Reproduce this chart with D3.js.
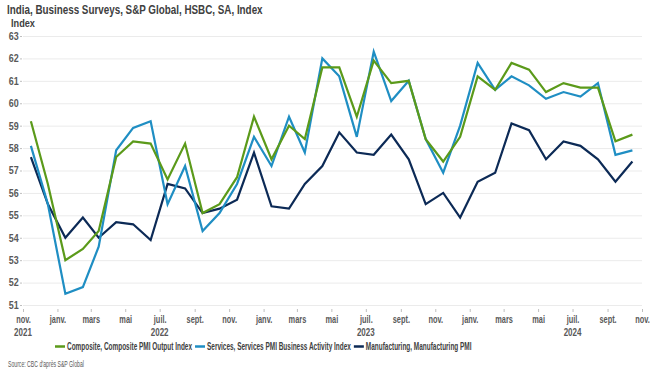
<!DOCTYPE html>
<html>
<head>
<meta charset="utf-8">
<script src="https://cdn.jsdelivr.net/npm/d3@7"></script>
<style>
  body { margin: 0; background: #fff; }
  svg text { font-family: "Liberation Sans", Arial, sans-serif; }
</style>
</head>
<body>
<div id="chart"></div>
<script>
// monthly readings, nov. 2021 -> oct. 2024
var startMonth = new Date(2021, 10, 1);

var composite = [59.2, 56.4, 53.0, 53.5, 54.3, 57.6, 58.3, 58.2, 56.6, 58.2, 55.1, 55.5,
    56.7, 59.4, 57.5, 59.0, 58.4, 61.6, 61.6, 59.4, 61.9, 60.9, 61.0, 58.4,
    57.4, 58.5, 61.2, 60.6, 61.8, 61.5, 60.5, 60.9, 60.7, 60.7, 58.3, 58.6];

var services = [58.1, 55.5, 51.5, 51.8, 53.6, 57.9, 58.9, 59.2, 55.5, 57.2, 54.3, 55.1,
    56.4, 58.5, 57.2, 59.4, 57.8, 62.0, 61.2, 58.5, 62.3, 60.1, 61.0, 58.4,
    56.9, 59.0, 61.8, 60.6, 61.2, 60.8, 60.2, 60.5, 60.3, 60.9, 57.7, 57.9];

var manufacturing = [57.6, 55.5, 54.0, 54.9, 54.0, 54.7, 54.6, 53.9, 56.4, 56.2, 55.1, 55.3,
    55.7, 57.8, 55.4, 55.3, 56.4, 57.2, 58.7, 57.8, 57.7, 58.6, 57.5, 55.5,
    56.0, 54.9, 56.5, 56.9, 59.1, 58.8, 57.5, 58.3, 58.1, 57.5, 56.5, 57.4];

var seriesNames = ["Composite, Composite PMI Output Index",
    "Services, Services PMI Business Activity Index",
    "Manufacturing, Manufacturing PMI"];
var seriesColors = ["#5b9a1a", "#1f8ec3", "#0c2a56"];

var monthLabels = ["janv.", "févr.", "mars", "avr.", "mai", "juin", "juil.", "août", "sept.", "oct.", "nov.", "déc."];
var yearLabels = [2021, 2022, 2023, 2024];
var yTicks = d3.range(51, 64, 1);

var W = 652, H = 377;
var margin = { top: 36, left: 23 };
var width = 642 - margin.left;
var height = 305 - margin.top;
var squeeze = 0.74; // narrow the glyphs like the original condensed face

var svg = d3.select("#chart").append("svg")
    .attr("width", W)
    .attr("height", H);

// text placed at (px,py) and squeezed horizontally so it spans roughly targetW
function fitText(px, py, str, size, weight, fill, targetW) {
    var grp = svg.append("g").attr("transform", "translate(" + px + "," + py + ")");
    var t = grp.append("text")
        .attr("font-size", size).attr("font-weight", weight).attr("fill", fill)
        .text(str);
    var s = targetW ? targetW / t.node().getComputedTextLength() : squeeze;
    t.attr("transform", "scale(" + s + ",1)");
    return t;
}

fitText(7, 14, "India, Business Surveys, S&P Global, HSBC, SA, Index", 13.5, "bold", "#404040", 256);
fitText(11, 27, "Index", 10.5, "bold", "#404040", 24);

var g = svg.append("g")
    .attr("transform", "translate(" + margin.left + "," + margin.top + ")");

var x = d3.scaleTime()
    .domain([startMonth, new Date(2024, 10, 1)])
    .range([0, width]);

var y = d3.scaleLinear()
    .domain([51, 63])
    .range([height, 0]);

// grid + y labels
var yAxis = g.append("g")
    .call(d3.axisLeft(y).tickValues(yTicks).tickSize(-width).tickPadding(5).tickFormat(d3.format("d")));
yAxis.select(".domain").remove();
yAxis.selectAll(".tick line").attr("stroke", "#ebebeb").attr("stroke-width", 1);
yAxis.selectAll(".tick text")
    .attr("font-size", 10.5).attr("font-weight", "bold").attr("fill", "#595959")
    .attr("transform", "scale(0.85,1)");
yAxis.selectAll(".tick").append("line")
    .attr("x1", -3).attr("x2", -1)
    .attr("stroke", "#bfbfbf");

// x axis, ticks every two months
var xTickDates = d3.timeMonth.range(startMonth, new Date(2024, 10, 2), 2);
var xAxis = g.append("g")
    .attr("transform", "translate(0," + height + ")")
    .call(d3.axisBottom(x).tickValues(xTickDates).tickSize(3).tickPadding(8)
        .tickFormat(function (d) { return monthLabels[d.getMonth()]; }));
xAxis.select(".domain").remove();
xAxis.selectAll(".tick line").attr("stroke", "#bfbfbf").attr("transform", "translate(0,4)");
xAxis.selectAll(".tick text")
    .attr("font-size", 10).attr("font-weight", "bold").attr("fill", "#595959")
    .attr("transform", "scale(" + squeeze + ",1)");

// year labels: 2021 under first tick, others under july
yearLabels.forEach(function (yr) {
    var d = yr === 2021 ? startMonth : new Date(yr, 6, 1);
    g.append("text")
        .attr("x", x(d) / 0.8).attr("y", height + 31)
        .attr("text-anchor", "middle")
        .attr("transform", "scale(0.8,1)")
        .attr("font-size", 10).attr("font-weight", "bold").attr("fill", "#595959")
        .text(yr);
});

// lines
var allSeries = [composite, services, manufacturing];
var line = d3.line()
    .x(function (d, i) { return x(new Date(2021, 10 + i, 15)); })
    .y(function (d) { return y(d); });

[2, 1, 0].forEach(function (k) {
    g.append("path")
        .datum(allSeries[k])
        .attr("fill", "none")
        .attr("stroke", seriesColors[k])
        .attr("stroke-width", 2.2)
        .attr("stroke-linejoin", "miter")
        .attr("d", line);
});

// legend
var lx = 55;
var legendY = 350;
var legendSqueeze = 0.615;
seriesNames.forEach(function (name, i) {
    svg.append("line")
        .attr("x1", lx).attr("x2", lx + 10)
        .attr("y1", legendY - 3.5).attr("y2", legendY - 3.5)
        .attr("stroke", seriesColors[i]).attr("stroke-width", 2.5);
    var t = svg.append("g").attr("transform", "translate(" + (lx + 12) + "," + legendY + ")")
        .append("text")
        .attr("font-size", 10.5).attr("font-weight", "bold").attr("fill", "#404040")
        .attr("transform", "scale(" + legendSqueeze + ",1)")
        .text(name);
    lx += 12 + t.node().getComputedTextLength() * legendSqueeze + 3;
});

fitText(8, 367, "Source: CBC d'après S&P Global", 8.5, "normal", "#595959", 76);
</script>
</body>
</html>
